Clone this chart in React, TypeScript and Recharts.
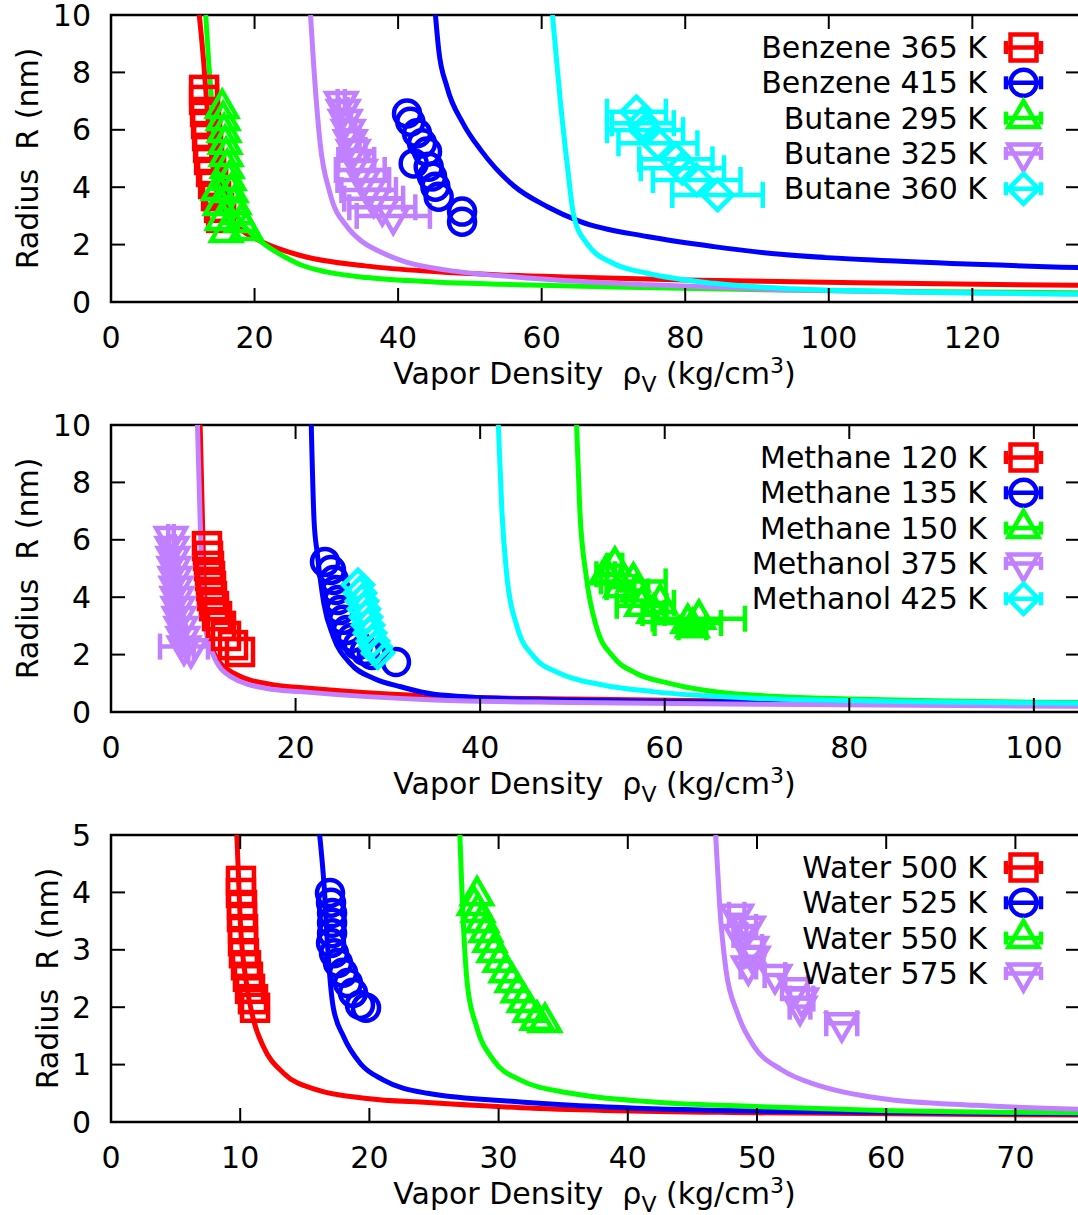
import React from 'react';
import { ComposedChart, Line, Scatter, XAxis, YAxis, ErrorBar, ReferenceArea } from 'recharts';

// ---------- colours ----------
const RED = '#ff0000';
const BLUE = '#0000ff';
const GREEN = '#00ff00';
const LAV = '#c080ff';
const CYAN = '#00ffff';

// ---------- panel 1 : Benzene / Butane ----------
const p1XTicks = [0, 20, 40, 60, 80, 100, 120];
const p1YTicks = [0, 2, 4, 6, 8, 10];
const benzene365Pts = [[12.97, 7.39], [12.97, 7.04], [13.11, 6.62], [13.25, 6.2], [13.39, 5.78], [13.53, 5.37], [13.67, 4.95], [13.95, 4.53], [14.23, 4.11], [14.64, 3.69], [15.06, 3.28], [15.34, 2.93]];
const benzene415Pts = [[41.24, 6.57], [41.7, 6.28], [42.63, 5.88], [43.33, 5.53], [44.03, 5.24], [42.17, 4.83], [44.26, 4.71], [44.73, 4.37], [45.19, 4.02], [45.65, 3.67], [48.91, 3.15], [48.91, 2.8]];
const butane295Pts = [[15.48, 6.76], [15.62, 6.34], [15.76, 5.92], [15.9, 5.51], [16.04, 5.09], [16.18, 4.67], [16.46, 4.25], [16.74, 3.83], [17.15, 3.41], [17.57, 3.07], [18.13, 2.79], [18.83, 2.51], [14.92, 3.9], [15.2, 3.38], [15.48, 2.86], [16.04, 2.44]];
const butane325Pts = [[32.08, 6.97, 0.5], [32.36, 6.69, 0.6], [32.64, 6.34, 0.8], [33.05, 5.99, 1.0], [33.33, 5.64, 1.3], [33.75, 5.3, 1.7], [34.17, 4.95, 2.5], [34.73, 4.6, 3.4], [35.15, 4.25, 3.6], [35.9, 3.9, 3.8], [36.6, 3.6, 4.1], [37.8, 3.3, 4.6], [39.33, 3.0, 5.1]];
const butane360Pts = [[73.2, 6.63, 4.1], [74.1, 6.23, 4.3], [74.4, 5.99, 5.3], [76.2, 5.53, 5.5], [78.7, 4.97, 5.1], [79.6, 4.66, 5.8], [81.6, 4.25, 6.1], [84.5, 3.73, 6.3]];
const benzene365Curve = [[12.3, 10], [12.9, 8.4], [13.5, 6.4], [14.2, 4.7], [14.8, 3.8], [16.6, 2.9], [18.5, 2.45], [21.0, 2.1], [26.4, 1.62], [35.7, 1.25], [45, 1.06], [54.3, 0.94], [65, 0.86], [80, 0.77], [93, 0.71], [110, 0.65], [135, 0.58]];
const benzene415Curve = [[45.2, 10], [45.65, 8.8], [46.8, 7.5], [49.1, 6.2], [51.5, 5.3], [56.1, 4.05], [60.8, 3.32], [65.4, 2.8], [74.7, 2.28], [84, 1.93], [93.3, 1.66], [110, 1.42], [135, 1.2]];
const butane295Curve = [[13.2, 10], [13.6, 8.4], [14.3, 6.3], [15.2, 4.7], [16.6, 3.5], [18.9, 2.55], [21.2, 2.05], [24, 1.6], [26.4, 1.3], [30, 1.05], [35.7, 0.85], [45, 0.7], [54.3, 0.62], [70, 0.52], [93, 0.42], [110, 0.37], [135, 0.32]];
const butane325Curve = [[27.8, 10], [28.2, 8.4], [29.15, 5.5], [30.5, 3.8], [32.9, 2.62], [34.7, 2.16], [37.5, 1.75], [41, 1.4], [46.8, 1.11], [56, 0.88], [65, 0.72], [74.7, 0.6], [93.3, 0.43], [110, 0.35], [135, 0.28]];
const butane360Curve = [[61.5, 10], [62.6, 7.0], [63.6, 4.7], [64.5, 2.97], [66.3, 2.04], [70, 1.34], [74.7, 1.0], [84, 0.65], [93.3, 0.48], [110, 0.36], [135, 0.28]];

// ---------- panel 2 : Methane / Methanol ----------
const p2XTicks = [0, 20, 40, 60, 80, 100];
const p2YTicks = [0, 2, 4, 6, 8, 10];
const methane120Pts = [[10.4, 5.78], [10.51, 5.44], [10.62, 5.09], [10.73, 4.74], [10.84, 4.39], [10.94, 4.04], [11.16, 3.69], [11.49, 3.34], [11.92, 3.0], [12.46, 2.65], [13.22, 2.33], [13.98, 2.09]];
const methane135Pts = [[23.19, 5.23], [23.84, 4.95], [24.16, 4.6], [24.38, 4.25], [24.6, 3.9], [24.81, 3.55], [25.14, 3.21], [25.57, 2.86], [26.11, 2.58], [26.76, 2.33], [27.52, 2.13], [28.28, 1.99], [30.88, 1.74]];
const methane150Pts = [[54.6, 5.1, 0.8], [53.6, 4.8, 1.0], [56.6, 4.55, 3.5], [55.2, 4.35, 1.5], [57.0, 4.2, 1.2], [57.5, 3.7, 2.7], [59.5, 3.8, 1.5], [58.8, 3.45, 1.2], [62.5, 3.1, 3.6], [63.7, 3.25, 5.0], [63.0, 2.95, 1.5]];
const methanol375Pts = [[6.5, 6.1, 0.3], [6.61, 5.75, 0.3], [6.72, 5.4, 0.3], [6.83, 5.05, 0.3], [6.94, 4.7, 0.3], [7.05, 4.36, 0.3], [7.15, 4.01, 0.3], [7.26, 3.66, 0.3], [7.37, 3.31, 0.3], [7.58, 2.96, 0.3], [7.8, 2.61, 0.3], [7.91, 2.28, 2.6], [8.67, 2.19, 0.3]];
const methanol425Pts = [[26.76, 4.43], [26.98, 4.15], [27.2, 3.87], [27.41, 3.59], [27.63, 3.31], [27.85, 3.03], [28.07, 2.75], [28.39, 2.47], [28.71, 2.26], [28.93, 2.06]];
const methane120Curve = [[9.66, 10], [9.91, 6.69], [10.27, 3.2], [11.17, 2.05], [13.3, 1.35], [17.7, 0.94], [20.5, 0.85], [35, 0.55], [50, 0.45], [70, 0.38], [105, 0.3]];
const methane135Curve = [[21.7, 10], [22.0, 6.69], [22.35, 5.53], [23.06, 3.79], [24.1, 2.62], [25.9, 1.7], [28.5, 1.17], [31.4, 0.88], [35, 0.62], [44.3, 0.45], [60, 0.37], [80, 0.32], [105, 0.28]];
const methane150Curve = [[50.45, 10], [50.8, 7.04], [51.5, 4.72], [52.6, 2.97], [54.4, 1.93], [56.9, 1.35], [60.5, 1.0], [69.5, 0.59], [85, 0.42], [105, 0.33]];
const methanol375Curve = [[9.37, 10], [9.66, 6.69], [10.09, 3.2], [11.0, 2.05], [12.97, 1.23], [16.9, 0.82], [20.5, 0.71], [35, 0.42], [50, 0.33], [70, 0.27], [105, 0.2]];
const methanol425Curve = [[41.97, 10], [42.35, 7.04], [42.9, 4.72], [44.0, 2.97], [45.8, 1.93], [48.6, 1.35], [53.3, 0.94], [58.7, 0.71], [69.5, 0.48], [85, 0.37], [105, 0.3]];

// ---------- panel 3 : Water ----------
const p3XTicks = [0, 10, 20, 30, 40, 50, 60, 70];
const p3YTicks = [0, 1, 2, 3, 4, 5];
const water500Pts = [[10.06, 4.2], [10.06, 3.99], [10.14, 3.78], [10.14, 3.57], [10.22, 3.36], [10.22, 3.15], [10.29, 2.94], [10.45, 2.73], [10.6, 2.53], [10.76, 2.32], [10.99, 2.14], [11.15, 1.99]];
const water525Pts = [[16.95, 3.99], [17.03, 3.82], [17.11, 3.64], [17.11, 3.47], [17.11, 3.29], [17.03, 3.12], [17.26, 2.94], [17.57, 2.77], [17.96, 2.6], [18.34, 2.42], [18.73, 2.25], [19.27, 2.04], [19.74, 1.99]];
const water550Pts = [[28.33, 3.95], [28.1, 3.78], [28.41, 3.66], [28.72, 3.48], [29.02, 3.31], [29.33, 3.14], [29.64, 2.96], [30.11, 2.79], [30.57, 2.61], [31.04, 2.44], [31.5, 2.26], [31.97, 2.09], [32.43, 1.92], [32.97, 1.78], [33.59, 1.74]];
const water575Pts = [[48.43, 3.61, 0.6], [49.33, 3.4, 0.6], [48.68, 3.26, 0.5], [49.59, 3.05, 0.8], [49.71, 2.88, 0.8], [49.33, 2.71, 0.6], [51.39, 2.56, 0.8], [52.94, 2.33, 1.0], [53.46, 2.15, 0.9], [53.33, 2.01, 0.8], [56.56, 1.72, 1.2]];
const water500Curve = [[9.74, 5], [10.0, 3.52], [10.52, 2.36], [11.03, 1.78], [11.8, 1.31], [13.36, 0.85], [15.95, 0.56], [19.8, 0.41], [24.5, 0.34], [31.7, 0.25], [49.8, 0.16], [75, 0.12]];
const water525Curve = [[16.15, 5], [16.5, 4.1], [16.8, 2.94], [17.2, 2.0], [18.0, 1.49], [19.3, 1.02], [21.1, 0.73], [24.5, 0.5], [31.7, 0.35], [49.8, 0.19], [75, 0.14]];
const water550Curve = [[27.0, 5], [27.2, 3.81], [27.6, 2.36], [28.3, 1.66], [29.6, 1.08], [31.7, 0.73], [35.6, 0.5], [42.0, 0.35], [49.8, 0.27], [59.6, 0.2], [75, 0.16]];
const water575Curve = [[46.8, 5], [47.1, 3.81], [47.6, 2.65], [48.5, 1.89], [49.8, 1.31], [51.9, 0.91], [55.0, 0.62], [59.6, 0.41], [67, 0.29], [75, 0.22]];

// ---------- layout ----------
const FONT = '"DejaVu Sans", "Liberation Sans", sans-serif';
const FS = 30;
const CW = 1080;
const PANEL_STEP = 410;
const PAD = 25; // extra room above each plot so the top tick label is not clipped
const CH = PANEL_STEP + PAD;
const LEFT = 111;
const TOP = 15 + PAD;
const PH = 287;
const PW = CW - LEFT;
const MSW = 4.5;
const LSW = 5;

type Kind = 'square' | 'circle' | 'up' | 'down' | 'diamond';

const Marker = ({ kind, cx, cy, color }: { kind: Kind; cx: number; cy: number; color: string }) => {
  const common = { fill: 'none', stroke: color, strokeWidth: MSW, strokeLinejoin: 'miter' as const };
  if (cx == null || cy == null || isNaN(cx) || isNaN(cy)) return null;
  switch (kind) {
    case 'square':
      return <rect x={cx - 13} y={cy - 13} width={26} height={26} {...common} />;
    case 'circle':
      return <circle cx={cx} cy={cy} r={13} {...common} />;
    case 'up':
      return <polygon points={`${cx},${cy - 17} ${cx + 15},${cy + 9} ${cx - 15},${cy + 9}`} {...common} />;
    case 'down':
      return <polygon points={`${cx},${cy + 17} ${cx + 15},${cy - 9} ${cx - 15},${cy - 9}`} {...common} />;
    default:
      return <polygon points={`${cx},${cy - 15} ${cx + 15},${cy} ${cx},${cy + 15} ${cx - 15},${cy}`} {...common} />;
  }
};

type Series = { name: string; color: string; kind: Kind; pts: number[][]; curve: number[][] };

const panel1: Series[] = [
  { name: 'Benzene 365 K', color: RED, kind: 'square', pts: benzene365Pts, curve: benzene365Curve },
  { name: 'Benzene 415 K', color: BLUE, kind: 'circle', pts: benzene415Pts, curve: benzene415Curve },
  { name: 'Butane 295 K', color: GREEN, kind: 'up', pts: butane295Pts, curve: butane295Curve },
  { name: 'Butane 325 K', color: LAV, kind: 'down', pts: butane325Pts, curve: butane325Curve },
  { name: 'Butane 360 K', color: CYAN, kind: 'diamond', pts: butane360Pts, curve: butane360Curve },
];
const panel2: Series[] = [
  { name: 'Methane 120 K', color: RED, kind: 'square', pts: methane120Pts, curve: methane120Curve },
  { name: 'Methane 135 K', color: BLUE, kind: 'circle', pts: methane135Pts, curve: methane135Curve },
  { name: 'Methane 150 K', color: GREEN, kind: 'up', pts: methane150Pts, curve: methane150Curve },
  { name: 'Methanol 375 K', color: LAV, kind: 'down', pts: methanol375Pts, curve: methanol375Curve },
  { name: 'Methanol 425 K', color: CYAN, kind: 'diamond', pts: methanol425Pts, curve: methanol425Curve },
];
const panel3: Series[] = [
  { name: 'Water 500 K', color: RED, kind: 'square', pts: water500Pts, curve: water500Curve },
  { name: 'Water 525 K', color: BLUE, kind: 'circle', pts: water525Pts, curve: water525Curve },
  { name: 'Water 550 K', color: GREEN, kind: 'up', pts: water550Pts, curve: water550Curve },
  { name: 'Water 575 K', color: LAV, kind: 'down', pts: water575Pts, curve: water575Curve },
];

const XTick = (props: any) => {
  const { x, y, payload } = props;
  return (
    <g>
      <line x1={x} x2={x} y1={y} y2={y - 14} stroke="#000" strokeWidth={2} />
      <line x1={x} x2={x} y1={y - PH} y2={y - PH + 14} stroke="#000" strokeWidth={2} />
      <text x={x} y={y + 46} textAnchor="middle" fontSize={FS} fontFamily={FONT} fill="#000">
        {payload.value}
      </text>
    </g>
  );
};

const YTick = (props: any) => {
  const { x, y, payload } = props;
  return (
    <g>
      <line x1={x} x2={x + 14} y1={y} y2={y} stroke="#000" strokeWidth={2} />
      <line x1={x + PW} x2={x + PW - 14} y1={y} y2={y} stroke="#000" strokeWidth={2} />
      <text x={x - 20} y={y + 10.5} textAnchor="end" fontSize={FS} fontFamily={FONT} fill="#000">
        {payload.value}
      </text>
    </g>
  );
};

const Panel = ({ index, series, xMax, xTicks, yMax, yTicks, yLabelX }: { index: number; series: Series[]; xMax: number; xTicks: number[]; yMax: number; yTicks: number[]; yLabelX: number }) => {
  return (
    <div style={{ position: 'absolute', left: 0, top: index * PANEL_STEP - PAD, width: CW, height: CH }}>
      <ComposedChart width={CW} height={CH} margin={{ top: TOP, right: 0, bottom: 0, left: 0 }}>
        <XAxis dataKey="x" type="number" domain={[0, xMax]} ticks={xTicks} interval={0} allowDataOverflow axisLine={false} tickLine={false} tickSize={0} tickMargin={0} height={CH - TOP - PH} tick={(p: any) => <XTick {...p} />} />
        <YAxis type="number" domain={[0, yMax]} ticks={yTicks} interval={0} allowDataOverflow axisLine={false} tickLine={false} tickSize={0} tickMargin={0} width={LEFT} tick={(p: any) => <YTick {...p} />} />
        <ReferenceArea x1={0} x2={xMax} y1={0} y2={yMax} fill="none" fillOpacity={0} stroke="#000" strokeWidth={2.5} />
        {series.map((s) => {
          const hasErr = s.pts.some((p) => p.length > 2);
          const data = s.pts.map((p) => ({ x: p[0], y: p[1], e: p[2] ?? 0 }));
          return (
            <Scatter
              key={'s' + s.name}
              name={s.name}
              data={data}
              dataKey="y"
              isAnimationActive={false}
              shape={(p: any) => <Marker kind={s.kind} cx={p.cx} cy={p.cy} color={s.color} />}
            >
              {hasErr ? <ErrorBar dataKey="e" direction="x" width={13} stroke={s.color} strokeWidth={MSW} isAnimationActive={false} /> : null}
            </Scatter>
          );
        })}
        {series.map((s) => (
          <Line
            key={'l' + s.name}
            data={s.curve.map((p) => ({ x: p[0], y: p[1] }))}
            dataKey="y"
            type="monotone"
            stroke={s.color}
            strokeWidth={LSW}
            dot={false}
            activeDot={false}
            isAnimationActive={false}
          />
        ))}
      </ComposedChart>
      <svg width={CW} height={CH} style={{ position: 'absolute', left: 0, top: 0, pointerEvents: 'none' }} fontFamily={FONT}>
        <text transform="rotate(-90)" x={-(TOP + PH / 2)} y={yLabelX} textAnchor="middle" fontSize={FS} fill="#000" style={{ whiteSpace: 'pre' }}>
          {'Radius  R (nm)'}
        </text>
        <text x={(LEFT + 1078) / 2} y={TOP + PH + 82} textAnchor="middle" fontSize={FS} fill="#000" style={{ whiteSpace: 'pre' }}>
          {'Vapor Density  ρ'}
          <tspan fontSize={22} dy={8}>V</tspan>
          <tspan dy={-8}>{' (kg/cm'}</tspan>
          <tspan fontSize={22} dy={-11}>3</tspan>
          <tspan dy={11}>)</tspan>
        </text>
        {series.map((s, i) => {
          const cy = PAD + 47.5 + 35.3 * i;
          return (
            <g key={'lg' + s.name}>
              <text x={987} y={cy + 10.5} textAnchor="end" fontSize={FS} fill="#000">
                {s.name}
              </text>
              <line x1={1006} x2={1041} y1={cy} y2={cy} stroke={s.color} strokeWidth={MSW} />
              <line x1={1006} x2={1006} y1={cy - 6.5} y2={cy + 6.5} stroke={s.color} strokeWidth={MSW} />
              <line x1={1041} x2={1041} y1={cy - 6.5} y2={cy + 6.5} stroke={s.color} strokeWidth={MSW} />
              <Marker kind={s.kind} cx={1023.5} cy={cy} color={s.color} />
            </g>
          );
        })}
      </svg>
    </div>
  );
};

export default function App() {
  return (
    <div style={{ position: 'absolute', left: 0, top: 0, width: 1078, height: 1215, overflow: 'hidden', background: '#fff', fontFamily: FONT }}>
      <Panel index={0} series={panel1} xMax={135} xTicks={p1XTicks} yMax={10} yTicks={p1YTicks} yLabelX={38} />
      <Panel index={1} series={panel2} xMax={105} xTicks={p2XTicks} yMax={10} yTicks={p2YTicks} yLabelX={38} />
      <Panel index={2} series={panel3} xMax={75} xTicks={p3XTicks} yMax={5} yTicks={p3YTicks} yLabelX={58} />
    </div>
  );
}
